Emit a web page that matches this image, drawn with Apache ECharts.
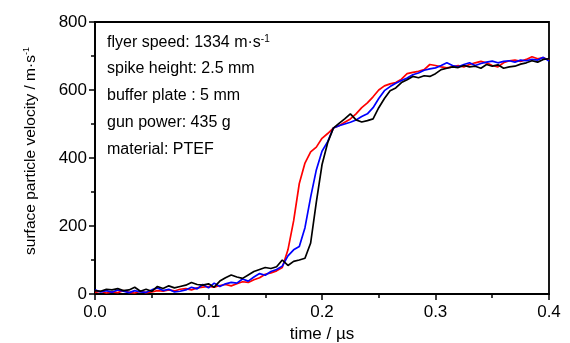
<!DOCTYPE html>
<html><head><meta charset="utf-8">
<script src="https://cdn.jsdelivr.net/npm/echarts@6/dist/echarts.min.js"></script>
<style>html,body{margin:0;padding:0;background:#fff}#c{width:570px;height:343px}</style>
</head><body><div id="c"></div>
<script>
const time = [0.000,0.005,0.010,0.015,0.020,0.025,0.030,0.035,0.040,0.045,0.050,0.055,0.060,0.065,0.070,0.075,0.080,0.085,0.090,0.095,
0.100,0.105,0.110,0.115,0.120,0.125,0.130,0.135,0.140,0.145,0.150,0.155,0.160,0.165,0.170,0.175,0.180,0.185,0.190,0.195,
0.200,0.205,0.210,0.215,0.220,0.225,0.230,0.235,0.240,0.245,0.250,0.255,0.260,0.265,0.270,0.275,0.280,0.285,0.290,0.295,
0.300,0.305,0.310,0.315,0.320,0.325,0.330,0.335,0.340,0.345,0.350,0.355,0.360,0.365,0.370,0.375,0.380,0.385,0.390,0.395,0.400];
const redV = [5,8,3,6,4,10,5,3,8,4,6,10,8,12,9,14,16,12,18,20,
22,20,25,28,24,30,36,34,42,48,58,62,68,78,130,215,325,385,418,432,
458,472,488,495,505,515,530,548,562,580,600,612,618,622,632,648,652,655,660,675,
672,668,665,668,672,668,675,680,684,680,672,668,680,686,688,684,690,698,692,695,688];
const blueV = [12,6,10,5,12,8,4,10,6,5,12,18,10,14,6,8,12,20,15,28,
18,32,22,30,34,32,44,38,50,60,55,66,72,82,112,130,140,195,285,365,
420,448,488,495,500,505,512,522,530,548,575,598,610,620,628,635,645,650,658,662,
665,672,680,672,668,675,680,672,678,682,685,680,684,686,682,688,686,690,688,696,685];
const blackV = [10,8,14,12,16,10,12,20,8,14,8,22,16,24,18,22,26,34,28,26,
30,20,38,48,56,50,46,56,66,72,78,75,80,100,84,96,100,105,150,270,
380,445,488,502,515,530,512,506,510,515,548,575,598,606,622,630,640,636,642,640,
648,660,664,668,666,672,668,670,664,675,670,674,664,668,670,676,680,686,682,690,692];
const xTicks = {min:0, max:0.4, interval:0.1};
const yTicks = {min:0, max:800, interval:200};
const infoLines = ['flyer speed: 1334 m·s', 'spike height: 2.5 mm', 'buffer plate : 5 mm', 'gun power: 435 g', 'material: PTEF'];

const FONT = '"Liberation Sans",Arial,sans-serif';
const pairs = v => time.map((t,i)=>[t,v[i]]);
const chart = echarts.init(document.getElementById('c'));
const mkSeries = (name, data, color) => ({name, type:'line', data:pairs(data), showSymbol:false, symbol:'none',
  lineStyle:{color, width:1.7}, itemStyle:{color}, animation:false});
const infoTexts = infoLines.map((s,i)=>({
  type:'text', left:107, top:34 + i*26.8,
  style: i===0 ? {rich:{a:{font:'16px '+FONT, fill:'#000'}, s:{font:'10px '+FONT, fill:'#000', verticalAlign:'top', padding:[0,0,8,0]}},
    text:'{a|'+s+'}{s|-1}'} : {text:s, font:'16px '+FONT, fill:'#000'}
}));
chart.setOption({
  animation:false,
  backgroundColor:'#fff',
  grid:{left:95, right:21, top:22, bottom:49, outerBoundsMode:'none', containLabel:false, show:true, borderColor:'#000', borderWidth:1.8, backgroundColor:'transparent'},
  xAxis:{type:'value', min:xTicks.min, max:xTicks.max, interval:xTicks.interval,
    name:'time / µs', nameLocation:'middle', nameGap:32,
    nameTextStyle:{fontFamily:FONT, fontSize:17, color:'#000'},
    axisLine:{lineStyle:{color:'#000', width:1.8}},
    axisTick:{inside:false, length:6, lineStyle:{color:'#000', width:1.5}},
    minorTick:{show:true, splitNumber:2, length:4, lineStyle:{color:'#000', width:1.5}},
    splitLine:{show:false},
    axisLabel:{fontFamily:FONT, fontSize:17, color:'#000', margin:10, formatter:v=>v.toFixed(1)}},
  yAxis:{type:'value', min:yTicks.min, max:yTicks.max, interval:yTicks.interval,
    name:'{a|surface particle velocity / m·s}{s|-1}', nameLocation:'middle', nameGap:56,
    nameTextStyle:{padding:[0,0,0,14], rich:{a:{fontFamily:FONT, fontSize:15.5, color:'#000'}, s:{fontFamily:FONT, fontSize:9, color:'#000', verticalAlign:'top', padding:[0,0,8,0]}}},
    axisLine:{show:true, lineStyle:{color:'#000', width:1.8}},
    axisTick:{show:true, inside:false, length:6, lineStyle:{color:'#000', width:1.5}},
    minorTick:{show:true, splitNumber:2, length:4, lineStyle:{color:'#000', width:1.5}},
    splitLine:{show:false},
    axisLabel:{fontFamily:FONT, fontSize:17, color:'#000', margin:8}},
  series:[mkSeries('red', redV, '#ff0000'), mkSeries('blue', blueV, '#0000ff'), mkSeries('black', blackV, '#000000')],
  graphic: infoTexts
});
</script></body></html>
